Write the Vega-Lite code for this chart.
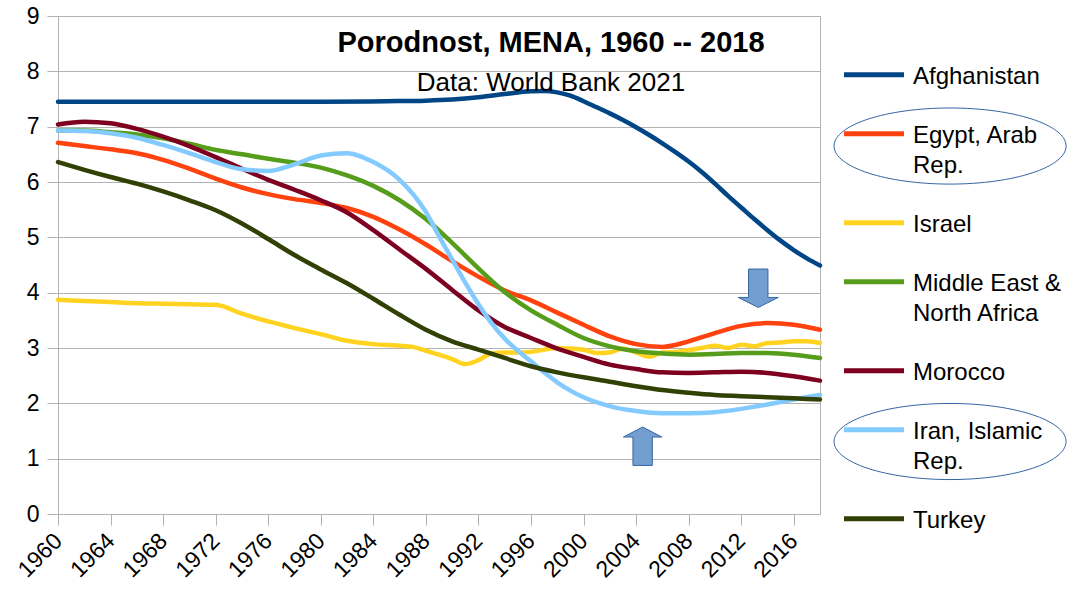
{
  "$schema": "https://vega.github.io/schema/vega-lite/v6.json",
  "width": 762,
  "height": 498,
  "autosize": {"type": "none"},
  "padding": {"left": 58, "top": 16, "right": 263, "bottom": 75},
  "background": "white",
  "title": {
    "text": "Porodnost, MENA, 1960 -- 2018",
    "subtitle": "Data: World Bank 2021",
    "anchor": "middle",
    "frame": "group",
    "dx": 112,
    "dy": 95,
    "font": "Liberation Sans",
    "fontSize": 29,
    "fontWeight": "bold",
    "color": "black",
    "subtitleFont": "Liberation Sans",
    "subtitleFontSize": 26,
    "subtitleColor": "black",
    "subtitlePadding": 12
  },
  "config": {
    "view": {"stroke": "#b3b3b3", "strokeWidth": 1},
    "axis": {
      "labelFont": "Liberation Sans",
      "labelFontSize": 23,
      "labelColor": "black",
      "domainColor": "#b3b3b3",
      "tickColor": "#b3b3b3",
      "gridColor": "#b3b3b3",
      "title": null
    },
    "legend": {
      "labelFont": "Liberation Sans",
      "labelFontSize": 24,
      "labelColor": "black",
      "labelLimit": 400
    },
    "style": {"guide-label": {"lineHeight": 30}}
  },
  "datasets": {
    "tfr": [
      {"country": "Afghanistan", "year": 1960, "tfr": 7.45},
      {"country": "Afghanistan", "year": 1965, "tfr": 7.45},
      {"country": "Afghanistan", "year": 1970, "tfr": 7.45},
      {"country": "Afghanistan", "year": 1975, "tfr": 7.45},
      {"country": "Afghanistan", "year": 1980, "tfr": 7.45},
      {"country": "Afghanistan", "year": 1985, "tfr": 7.46},
      {"country": "Afghanistan", "year": 1988, "tfr": 7.47},
      {"country": "Afghanistan", "year": 1990, "tfr": 7.49},
      {"country": "Afghanistan", "year": 1992, "tfr": 7.53},
      {"country": "Afghanistan", "year": 1994, "tfr": 7.59},
      {"country": "Afghanistan", "year": 1996, "tfr": 7.64},
      {"country": "Afghanistan", "year": 1997, "tfr": 7.645},
      {"country": "Afghanistan", "year": 1998, "tfr": 7.62},
      {"country": "Afghanistan", "year": 1999, "tfr": 7.56},
      {"country": "Afghanistan", "year": 2000, "tfr": 7.46},
      {"country": "Afghanistan", "year": 2001, "tfr": 7.35},
      {"country": "Afghanistan", "year": 2002, "tfr": 7.24},
      {"country": "Afghanistan", "year": 2003, "tfr": 7.12},
      {"country": "Afghanistan", "year": 2004, "tfr": 6.99},
      {"country": "Afghanistan", "year": 2005, "tfr": 6.85},
      {"country": "Afghanistan", "year": 2006, "tfr": 6.70},
      {"country": "Afghanistan", "year": 2007, "tfr": 6.54},
      {"country": "Afghanistan", "year": 2008, "tfr": 6.37},
      {"country": "Afghanistan", "year": 2009, "tfr": 6.18},
      {"country": "Afghanistan", "year": 2010, "tfr": 5.97},
      {"country": "Afghanistan", "year": 2011, "tfr": 5.75},
      {"country": "Afghanistan", "year": 2012, "tfr": 5.54},
      {"country": "Afghanistan", "year": 2013, "tfr": 5.33},
      {"country": "Afghanistan", "year": 2014, "tfr": 5.13},
      {"country": "Afghanistan", "year": 2015, "tfr": 4.94},
      {"country": "Afghanistan", "year": 2016, "tfr": 4.77},
      {"country": "Afghanistan", "year": 2017, "tfr": 4.62},
      {"country": "Afghanistan", "year": 2018, "tfr": 4.49},

      {"country": "Egypt, Arab Rep.", "year": 1960, "tfr": 6.71},
      {"country": "Egypt, Arab Rep.", "year": 1962, "tfr": 6.65},
      {"country": "Egypt, Arab Rep.", "year": 1964, "tfr": 6.59},
      {"country": "Egypt, Arab Rep.", "year": 1966, "tfr": 6.52},
      {"country": "Egypt, Arab Rep.", "year": 1968, "tfr": 6.40},
      {"country": "Egypt, Arab Rep.", "year": 1970, "tfr": 6.24},
      {"country": "Egypt, Arab Rep.", "year": 1972, "tfr": 6.06},
      {"country": "Egypt, Arab Rep.", "year": 1974, "tfr": 5.90},
      {"country": "Egypt, Arab Rep.", "year": 1976, "tfr": 5.78},
      {"country": "Egypt, Arab Rep.", "year": 1978, "tfr": 5.69},
      {"country": "Egypt, Arab Rep.", "year": 1980, "tfr": 5.62},
      {"country": "Egypt, Arab Rep.", "year": 1982, "tfr": 5.53},
      {"country": "Egypt, Arab Rep.", "year": 1984, "tfr": 5.37},
      {"country": "Egypt, Arab Rep.", "year": 1986, "tfr": 5.14},
      {"country": "Egypt, Arab Rep.", "year": 1988, "tfr": 4.87},
      {"country": "Egypt, Arab Rep.", "year": 1990, "tfr": 4.57},
      {"country": "Egypt, Arab Rep.", "year": 1992, "tfr": 4.29},
      {"country": "Egypt, Arab Rep.", "year": 1994, "tfr": 4.04},
      {"country": "Egypt, Arab Rep.", "year": 1996, "tfr": 3.86},
      {"country": "Egypt, Arab Rep.", "year": 1998, "tfr": 3.64},
      {"country": "Egypt, Arab Rep.", "year": 2000, "tfr": 3.42},
      {"country": "Egypt, Arab Rep.", "year": 2002, "tfr": 3.21},
      {"country": "Egypt, Arab Rep.", "year": 2004, "tfr": 3.07},
      {"country": "Egypt, Arab Rep.", "year": 2006, "tfr": 3.02},
      {"country": "Egypt, Arab Rep.", "year": 2008, "tfr": 3.12},
      {"country": "Egypt, Arab Rep.", "year": 2010, "tfr": 3.27},
      {"country": "Egypt, Arab Rep.", "year": 2012, "tfr": 3.40},
      {"country": "Egypt, Arab Rep.", "year": 2014, "tfr": 3.45},
      {"country": "Egypt, Arab Rep.", "year": 2016, "tfr": 3.42},
      {"country": "Egypt, Arab Rep.", "year": 2018, "tfr": 3.33},

      {"country": "Israel", "year": 1960, "tfr": 3.87},
      {"country": "Israel", "year": 1962, "tfr": 3.85},
      {"country": "Israel", "year": 1964, "tfr": 3.83},
      {"country": "Israel", "year": 1966, "tfr": 3.81},
      {"country": "Israel", "year": 1968, "tfr": 3.80},
      {"country": "Israel", "year": 1970, "tfr": 3.79},
      {"country": "Israel", "year": 1972, "tfr": 3.78},
      {"country": "Israel", "year": 1974, "tfr": 3.62},
      {"country": "Israel", "year": 1976, "tfr": 3.48},
      {"country": "Israel", "year": 1978, "tfr": 3.36},
      {"country": "Israel", "year": 1980, "tfr": 3.25},
      {"country": "Israel", "year": 1982, "tfr": 3.13},
      {"country": "Israel", "year": 1984, "tfr": 3.07},
      {"country": "Israel", "year": 1986, "tfr": 3.04},
      {"country": "Israel", "year": 1987, "tfr": 3.02},
      {"country": "Israel", "year": 1988, "tfr": 2.95},
      {"country": "Israel", "year": 1989, "tfr": 2.88},
      {"country": "Israel", "year": 1990, "tfr": 2.80},
      {"country": "Israel", "year": 1991, "tfr": 2.71},
      {"country": "Israel", "year": 1992, "tfr": 2.78},
      {"country": "Israel", "year": 1993, "tfr": 2.90},
      {"country": "Israel", "year": 1994, "tfr": 2.92},
      {"country": "Israel", "year": 1995, "tfr": 2.92},
      {"country": "Israel", "year": 1996, "tfr": 2.93},
      {"country": "Israel", "year": 1997, "tfr": 2.97},
      {"country": "Israel", "year": 1998, "tfr": 3.00},
      {"country": "Israel", "year": 1999, "tfr": 2.99},
      {"country": "Israel", "year": 2000, "tfr": 2.97},
      {"country": "Israel", "year": 2001, "tfr": 2.91},
      {"country": "Israel", "year": 2002, "tfr": 2.92},
      {"country": "Israel", "year": 2003, "tfr": 2.99},
      {"country": "Israel", "year": 2004, "tfr": 2.92},
      {"country": "Israel", "year": 2005, "tfr": 2.84},
      {"country": "Israel", "year": 2006, "tfr": 2.92},
      {"country": "Israel", "year": 2007, "tfr": 2.93},
      {"country": "Israel", "year": 2008, "tfr": 2.96},
      {"country": "Israel", "year": 2009, "tfr": 3.00},
      {"country": "Israel", "year": 2010, "tfr": 3.04},
      {"country": "Israel", "year": 2011, "tfr": 3.00},
      {"country": "Israel", "year": 2012, "tfr": 3.06},
      {"country": "Israel", "year": 2013, "tfr": 3.03},
      {"country": "Israel", "year": 2014, "tfr": 3.09},
      {"country": "Israel", "year": 2015, "tfr": 3.10},
      {"country": "Israel", "year": 2016, "tfr": 3.12},
      {"country": "Israel", "year": 2017, "tfr": 3.12},
      {"country": "Israel", "year": 2018, "tfr": 3.09},

      {"country": "Middle East & North Africa", "year": 1960, "tfr": 6.93},
      {"country": "Middle East & North Africa", "year": 1962, "tfr": 6.93},
      {"country": "Middle East & North Africa", "year": 1964, "tfr": 6.90},
      {"country": "Middle East & North Africa", "year": 1966, "tfr": 6.86},
      {"country": "Middle East & North Africa", "year": 1968, "tfr": 6.79},
      {"country": "Middle East & North Africa", "year": 1970, "tfr": 6.69},
      {"country": "Middle East & North Africa", "year": 1972, "tfr": 6.58},
      {"country": "Middle East & North Africa", "year": 1974, "tfr": 6.50},
      {"country": "Middle East & North Africa", "year": 1976, "tfr": 6.42},
      {"country": "Middle East & North Africa", "year": 1978, "tfr": 6.35},
      {"country": "Middle East & North Africa", "year": 1980, "tfr": 6.26},
      {"country": "Middle East & North Africa", "year": 1982, "tfr": 6.12},
      {"country": "Middle East & North Africa", "year": 1984, "tfr": 5.93},
      {"country": "Middle East & North Africa", "year": 1986, "tfr": 5.67},
      {"country": "Middle East & North Africa", "year": 1988, "tfr": 5.33},
      {"country": "Middle East & North Africa", "year": 1990, "tfr": 4.90},
      {"country": "Middle East & North Africa", "year": 1992, "tfr": 4.44},
      {"country": "Middle East & North Africa", "year": 1994, "tfr": 4.01},
      {"country": "Middle East & North Africa", "year": 1996, "tfr": 3.68},
      {"country": "Middle East & North Africa", "year": 1998, "tfr": 3.42},
      {"country": "Middle East & North Africa", "year": 2000, "tfr": 3.18},
      {"country": "Middle East & North Africa", "year": 2002, "tfr": 3.03},
      {"country": "Middle East & North Africa", "year": 2004, "tfr": 2.94},
      {"country": "Middle East & North Africa", "year": 2006, "tfr": 2.90},
      {"country": "Middle East & North Africa", "year": 2008, "tfr": 2.88},
      {"country": "Middle East & North Africa", "year": 2010, "tfr": 2.89},
      {"country": "Middle East & North Africa", "year": 2012, "tfr": 2.91},
      {"country": "Middle East & North Africa", "year": 2014, "tfr": 2.91},
      {"country": "Middle East & North Africa", "year": 2016, "tfr": 2.88},
      {"country": "Middle East & North Africa", "year": 2018, "tfr": 2.82},

      {"country": "Morocco", "year": 1960, "tfr": 7.04},
      {"country": "Morocco", "year": 1962, "tfr": 7.09},
      {"country": "Morocco", "year": 1964, "tfr": 7.06},
      {"country": "Morocco", "year": 1966, "tfr": 6.96},
      {"country": "Morocco", "year": 1968, "tfr": 6.82},
      {"country": "Morocco", "year": 1970, "tfr": 6.65},
      {"country": "Morocco", "year": 1972, "tfr": 6.45},
      {"country": "Morocco", "year": 1974, "tfr": 6.24},
      {"country": "Morocco", "year": 1976, "tfr": 6.04},
      {"country": "Morocco", "year": 1978, "tfr": 5.86},
      {"country": "Morocco", "year": 1980, "tfr": 5.67},
      {"country": "Morocco", "year": 1982, "tfr": 5.45},
      {"country": "Morocco", "year": 1984, "tfr": 5.13},
      {"country": "Morocco", "year": 1986, "tfr": 4.78},
      {"country": "Morocco", "year": 1988, "tfr": 4.43},
      {"country": "Morocco", "year": 1990, "tfr": 4.05},
      {"country": "Morocco", "year": 1992, "tfr": 3.68},
      {"country": "Morocco", "year": 1994, "tfr": 3.38},
      {"country": "Morocco", "year": 1996, "tfr": 3.18},
      {"country": "Morocco", "year": 1998, "tfr": 2.99},
      {"country": "Morocco", "year": 2000, "tfr": 2.84},
      {"country": "Morocco", "year": 2002, "tfr": 2.70},
      {"country": "Morocco", "year": 2004, "tfr": 2.62},
      {"country": "Morocco", "year": 2006, "tfr": 2.56},
      {"country": "Morocco", "year": 2008, "tfr": 2.55},
      {"country": "Morocco", "year": 2010, "tfr": 2.56},
      {"country": "Morocco", "year": 2012, "tfr": 2.57},
      {"country": "Morocco", "year": 2014, "tfr": 2.55},
      {"country": "Morocco", "year": 2016, "tfr": 2.49},
      {"country": "Morocco", "year": 2018, "tfr": 2.41},

      {"country": "Iran, Islamic Rep.", "year": 1960, "tfr": 6.93},
      {"country": "Iran, Islamic Rep.", "year": 1962, "tfr": 6.92},
      {"country": "Iran, Islamic Rep.", "year": 1964, "tfr": 6.88},
      {"country": "Iran, Islamic Rep.", "year": 1966, "tfr": 6.80},
      {"country": "Iran, Islamic Rep.", "year": 1968, "tfr": 6.67},
      {"country": "Iran, Islamic Rep.", "year": 1970, "tfr": 6.52},
      {"country": "Iran, Islamic Rep.", "year": 1972, "tfr": 6.36},
      {"country": "Iran, Islamic Rep.", "year": 1974, "tfr": 6.23},
      {"country": "Iran, Islamic Rep.", "year": 1976, "tfr": 6.20},
      {"country": "Iran, Islamic Rep.", "year": 1978, "tfr": 6.32},
      {"country": "Iran, Islamic Rep.", "year": 1980, "tfr": 6.48},
      {"country": "Iran, Islamic Rep.", "year": 1982, "tfr": 6.52},
      {"country": "Iran, Islamic Rep.", "year": 1984, "tfr": 6.36},
      {"country": "Iran, Islamic Rep.", "year": 1986, "tfr": 6.04},
      {"country": "Iran, Islamic Rep.", "year": 1988, "tfr": 5.46},
      {"country": "Iran, Islamic Rep.", "year": 1989, "tfr": 5.02},
      {"country": "Iran, Islamic Rep.", "year": 1990, "tfr": 4.60},
      {"country": "Iran, Islamic Rep.", "year": 1991, "tfr": 4.18},
      {"country": "Iran, Islamic Rep.", "year": 1992, "tfr": 3.79},
      {"country": "Iran, Islamic Rep.", "year": 1993, "tfr": 3.45},
      {"country": "Iran, Islamic Rep.", "year": 1994, "tfr": 3.17},
      {"country": "Iran, Islamic Rep.", "year": 1995, "tfr": 2.95},
      {"country": "Iran, Islamic Rep.", "year": 1996, "tfr": 2.76},
      {"country": "Iran, Islamic Rep.", "year": 1997, "tfr": 2.56},
      {"country": "Iran, Islamic Rep.", "year": 1998, "tfr": 2.38},
      {"country": "Iran, Islamic Rep.", "year": 1999, "tfr": 2.23},
      {"country": "Iran, Islamic Rep.", "year": 2000, "tfr": 2.11},
      {"country": "Iran, Islamic Rep.", "year": 2002, "tfr": 1.95},
      {"country": "Iran, Islamic Rep.", "year": 2004, "tfr": 1.86},
      {"country": "Iran, Islamic Rep.", "year": 2006, "tfr": 1.82},
      {"country": "Iran, Islamic Rep.", "year": 2008, "tfr": 1.82},
      {"country": "Iran, Islamic Rep.", "year": 2010, "tfr": 1.84},
      {"country": "Iran, Islamic Rep.", "year": 2012, "tfr": 1.90},
      {"country": "Iran, Islamic Rep.", "year": 2014, "tfr": 1.98},
      {"country": "Iran, Islamic Rep.", "year": 2016, "tfr": 2.07},
      {"country": "Iran, Islamic Rep.", "year": 2018, "tfr": 2.15},

      {"country": "Turkey", "year": 1960, "tfr": 6.36},
      {"country": "Turkey", "year": 1962, "tfr": 6.22},
      {"country": "Turkey", "year": 1964, "tfr": 6.09},
      {"country": "Turkey", "year": 1966, "tfr": 5.97},
      {"country": "Turkey", "year": 1968, "tfr": 5.83},
      {"country": "Turkey", "year": 1970, "tfr": 5.67},
      {"country": "Turkey", "year": 1972, "tfr": 5.49},
      {"country": "Turkey", "year": 1974, "tfr": 5.25},
      {"country": "Turkey", "year": 1976, "tfr": 4.97},
      {"country": "Turkey", "year": 1978, "tfr": 4.68},
      {"country": "Turkey", "year": 1980, "tfr": 4.42},
      {"country": "Turkey", "year": 1982, "tfr": 4.17},
      {"country": "Turkey", "year": 1984, "tfr": 3.89},
      {"country": "Turkey", "year": 1986, "tfr": 3.60},
      {"country": "Turkey", "year": 1988, "tfr": 3.33},
      {"country": "Turkey", "year": 1990, "tfr": 3.12},
      {"country": "Turkey", "year": 1992, "tfr": 2.97},
      {"country": "Turkey", "year": 1994, "tfr": 2.82},
      {"country": "Turkey", "year": 1996, "tfr": 2.67},
      {"country": "Turkey", "year": 1998, "tfr": 2.56},
      {"country": "Turkey", "year": 2000, "tfr": 2.47},
      {"country": "Turkey", "year": 2002, "tfr": 2.39},
      {"country": "Turkey", "year": 2004, "tfr": 2.31},
      {"country": "Turkey", "year": 2006, "tfr": 2.24},
      {"country": "Turkey", "year": 2008, "tfr": 2.19},
      {"country": "Turkey", "year": 2010, "tfr": 2.15},
      {"country": "Turkey", "year": 2012, "tfr": 2.13},
      {"country": "Turkey", "year": 2014, "tfr": 2.11},
      {"country": "Turkey", "year": 2016, "tfr": 2.09},
      {"country": "Turkey", "year": 2018, "tfr": 2.07}
    ],
    "ellipses": [
      {"label": "Egypt, Arab Rep.", "year": 2027.9, "tfr": 6.65},
      {"label": "Iran, Islamic Rep.", "year": 2027.9, "tfr": 1.31}
    ],
    "arrowsDown": [
      {"year": 2013.3, "tfr": 4.08}
    ],
    "arrowsUp": [
      {"year": 2004.5, "tfr": 1.225}
    ]
  },
  "layer": [
    {
      "data": {"name": "tfr"},
      "mark": {"type": "line", "interpolate": "monotone", "strokeWidth": 4.5, "strokeCap": "round"},
      "encoding": {
        "x": {
          "field": "year",
          "type": "quantitative",
          "scale": {"domain": [1960, 2018], "nice": false, "zero": false},
          "axis": {
            "values": [1960,1961,1962,1963,1964,1965,1966,1967,1968,1969,1970,1971,1972,1973,1974,1975,1976,1977,1978,1979,1980,1981,1982,1983,1984,1985,1986,1987,1988,1989,1990,1991,1992,1993,1994,1995,1996,1997,1998,1999,2000,2001,2002,2003,2004,2005,2006,2007,2008,2009,2010,2011,2012,2013,2014,2015,2016,2017,2018],
            "labelExpr": "datum.value % 4 === 0 ? '' + datum.value : ''",
            "labelAngle": -45,
            "labelAlign": "right",
            "labelBaseline": "middle",
            "labelOverlap": false,
            "labelFlush": false,
            "labelPadding": 12,
            "tickSize": 11,
            "grid": false
          }
        },
        "y": {
          "field": "tfr",
          "type": "quantitative",
          "scale": {"domain": [0, 9], "nice": false},
          "axis": {
            "values": [0,1,2,3,4,5,6,7,8,9],
            "format": "d",
            "tickSize": 11,
            "labelPadding": 8,
            "grid": true
          }
        },
        "color": {
          "field": "country",
          "type": "nominal",
          "scale": {
            "domain": ["Afghanistan", "Egypt, Arab Rep.", "Israel", "Middle East & North Africa", "Morocco", "Iran, Islamic Rep.", "Turkey"],
            "range": ["#004586", "#ff420e", "#ffd320", "#579d1c", "#7e0021", "#83caff", "#314004"]
          },
          "legend": {
            "title": null,
            "orient": "none",
            "legendX": 783.5,
            "legendY": 16,
            "padding": 0,
            "symbolType": "M -1 0.343 L 1 0.343",
            "symbolSize": 3600,
            "symbolStrokeWidth": 5,
            "labelOffset": 6.5,
            "labelBaseline": "top",
            "rowPadding": 2,
            "labelExpr": "datum.label == 'Egypt, Arab Rep.' ? ['Egypt, Arab', 'Rep.'] : datum.label == 'Middle East & North Africa' ? ['Middle East &', 'North Africa'] : datum.label == 'Iran, Islamic Rep.' ? ['Iran, Islamic', 'Rep.'] : datum.label"
          }
        }
      }
    },
    {
      "data": {"name": "ellipses"},
      "mark": {
        "type": "point",
        "shape": "M -1 0 A 1 0.328 0 1 0 1 0 A 1 0.328 0 1 0 -1 0 Z",
        "size": 53824,
        "filled": false,
        "stroke": "#3465a4",
        "strokeWidth": 1,
        "opacity": 1
      },
      "encoding": {
        "x": {"field": "year", "type": "quantitative"},
        "y": {"field": "tfr", "type": "quantitative"}
      }
    },
    {
      "data": {"name": "arrowsDown"},
      "mark": {
        "type": "point",
        "shape": "M -0.485 -0.96 L 0.485 -0.96 L 0.485 0.46 L 1 0.46 L 0 0.96 L -1 0.46 L -0.485 0.46 Z",
        "size": 1600,
        "filled": true,
        "fill": "#729fcf",
        "stroke": "#3465a4",
        "strokeWidth": 1,
        "opacity": 1
      },
      "encoding": {
        "x": {"field": "year", "type": "quantitative"},
        "y": {"field": "tfr", "type": "quantitative"}
      }
    },
    {
      "data": {"name": "arrowsUp"},
      "mark": {
        "type": "point",
        "shape": "M -0.485 0.96 L 0.485 0.96 L 0.485 -0.46 L 0.96 -0.46 L 0 -0.96 L -0.96 -0.46 L -0.485 -0.46 Z",
        "size": 1600,
        "filled": true,
        "fill": "#729fcf",
        "stroke": "#3465a4",
        "strokeWidth": 1,
        "opacity": 1
      },
      "encoding": {
        "x": {"field": "year", "type": "quantitative"},
        "y": {"field": "tfr", "type": "quantitative"}
      }
    }
  ]
}
